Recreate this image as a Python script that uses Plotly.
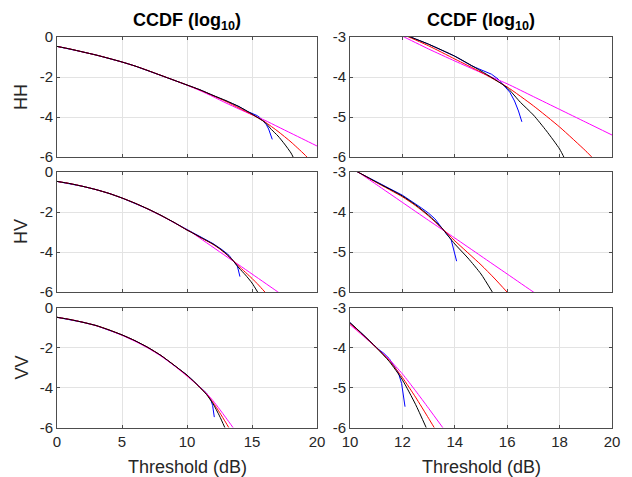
import plotly.graph_objects as go

# ---------------- data ----------------
# HH
hh_black_x = [0, 1, 2, 3, 4, 5, 6, 7, 8, 9, 10, 11, 12, 13, 14, 15, 16, 16.5, 17, 17.5, 18, 18.2]
hh_black_y = [-0.47, -0.6, -0.75, -0.9, -1.07, -1.25, -1.45, -1.68, -1.92, -2.16, -2.4, -2.64, -2.92, -3.18, -3.48, -3.85, -4.27, -4.63, -4.95, -5.35, -5.8, -6.05]
hh_red_x = [0, 1, 2, 3, 4, 5, 6, 7, 8, 9, 10, 11, 12, 13, 14, 15, 16, 17, 18, 19, 19.3]
hh_red_y = [-0.47, -0.6, -0.75, -0.9, -1.07, -1.25, -1.45, -1.68, -1.92, -2.16, -2.4, -2.65, -2.93, -3.22, -3.55, -3.88, -4.25, -4.72, -5.25, -5.85, -6.05]
hh_mag_x = [0, 1, 2, 3, 4, 5, 6, 7, 8, 9, 10, 11, 12, 13, 14, 15, 16, 17, 18, 19, 20]
hh_mag_y = [-0.47, -0.6, -0.75, -0.9, -1.07, -1.25, -1.45, -1.68, -1.92, -2.16, -2.41, -2.68, -2.98, -3.3, -3.6, -3.89, -4.17, -4.49, -4.81, -5.13, -5.45]
hh_blue_x = [0, 1, 2, 3, 4, 5, 6, 7, 8, 9, 10, 11, 12, 13, 14, 14.64, 15.0, 15.4, 15.65, 15.9, 16.1, 16.28, 16.43, 16.56]
hh_blue_y = [-0.47, -0.6, -0.75, -0.9, -1.07, -1.25, -1.45, -1.68, -1.92, -2.16, -2.4, -2.64, -2.92, -3.18, -3.48, -3.72, -3.82, -3.93, -4.05, -4.22, -4.38, -4.6, -4.85, -5.12]

# HV
hv_black_x = [0, 1, 2, 3, 4, 5, 6, 7, 8, 9, 10, 10.3, 11, 12, 12.5, 13, 13.5, 14, 14.5, 15, 15.45]
hv_black_y = [-0.47, -0.58, -0.72, -0.88, -1.07, -1.3, -1.56, -1.85, -2.17, -2.52, -2.9, -3.0, -3.25, -3.6, -3.82, -4.08, -4.4, -4.8, -5.15, -5.55, -6.02]
hv_red_x = [0, 1, 2, 3, 4, 5, 6, 7, 8, 9, 10, 10.3, 11, 12, 12.5, 13, 13.5, 14, 15, 15.5, 16.02]
hv_red_y = [-0.47, -0.58, -0.72, -0.88, -1.07, -1.3, -1.56, -1.85, -2.17, -2.52, -2.9, -3.0, -3.26, -3.62, -3.84, -4.1, -4.4, -4.72, -5.32, -5.65, -6.02]
hv_mag_x = [0, 1, 2, 3, 4, 5, 6, 7, 8, 9, 10, 10.3, 11, 12, 13, 14, 15, 16, 17, 17.05]
hv_mag_y = [-0.47, -0.58, -0.72, -0.88, -1.07, -1.3, -1.56, -1.86, -2.18, -2.53, -2.9, -3.0, -3.31, -3.76, -4.21, -4.65, -5.1, -5.55, -6.0, -6.02]
hv_blue_x = [0, 1, 2, 3, 4, 5, 6, 7, 8, 9, 10, 10.3, 11, 12, 12.73, 13.0, 13.24, 13.43, 13.6, 13.86, 13.95, 14.07]
hv_blue_y = [-0.47, -0.58, -0.72, -0.88, -1.07, -1.3, -1.56, -1.85, -2.17, -2.52, -2.9, -3.0, -3.24, -3.58, -3.9, -4.03, -4.17, -4.34, -4.48, -4.69, -4.9, -5.23]

# VV
vv_black_x = [0, 1, 2, 3, 4, 5, 6, 7, 8, 9, 10, 10.5, 11, 11.5, 12, 12.5, 12.92]
vv_black_y = [-0.49, -0.6, -0.74, -0.9, -1.12, -1.37, -1.66, -2.0, -2.4, -2.88, -3.38, -3.68, -4.0, -4.35, -4.81, -5.42, -6.02]
vv_red_x = [0, 1, 2, 3, 4, 5, 6, 7, 8, 9, 10, 10.5, 11, 11.5, 12, 12.5, 13, 13.23]
vv_red_y = [-0.49, -0.6, -0.74, -0.9, -1.12, -1.37, -1.66, -2.0, -2.4, -2.88, -3.4, -3.69, -4.0, -4.33, -4.75, -5.24, -5.77, -6.02]
vv_mag_x = [0, 1, 2, 3, 4, 5, 6, 7, 8, 9, 10, 10.5, 11, 11.5, 12, 12.5, 13, 13.56]
vv_mag_y = [-0.49, -0.6, -0.74, -0.91, -1.13, -1.39, -1.69, -2.03, -2.43, -2.9, -3.43, -3.71, -4.0, -4.3, -4.66, -5.08, -5.52, -6.02]
vv_blue_x = [0, 1, 2, 3, 4, 5, 6, 7, 8, 9, 10, 10.5, 11.08, 11.3, 11.5, 11.84, 11.97, 12.1]
vv_blue_y = [-0.49, -0.6, -0.74, -0.9, -1.12, -1.37, -1.66, -2.0, -2.4, -2.88, -3.38, -3.68, -4.04, -4.15, -4.28, -4.62, -4.9, -5.48]

row_names = ["HH", "HV", "VV"]
col_titles = ["CCDF (log<sub>10</sub>)", "CCDF (log<sub>10</sub>)"]
x_label = "Threshold (dB)"

left_xticks = [0, 5, 10, 15, 20]
right_xticks = [10, 12, 14, 16, 18, 20]
left_yticks = [-6, -4, -2, 0]
right_yticks = [-6, -5, -4, -3]

series = [
    [(hh_blue_x, hh_blue_y, "#0000ff"), (hh_mag_x, hh_mag_y, "#ff00ff"),
     (hh_red_x, hh_red_y, "#ff0000"), (hh_black_x, hh_black_y, "#000000")],
    [(hv_blue_x, hv_blue_y, "#0000ff"), (hv_mag_x, hv_mag_y, "#ff00ff"),
     (hv_red_x, hv_red_y, "#ff0000"), (hv_black_x, hv_black_y, "#000000")],
    [(vv_blue_x, vv_blue_y, "#0000ff"), (vv_mag_x, vv_mag_y, "#ff00ff"),
     (vv_red_x, vv_red_y, "#ff0000"), (vv_black_x, vv_black_y, "#000000")],
]

# ---------------- layout geometry ----------------
# The page body has an 8px margin, so the figure is drawn 8px in from the
# top-left corner of the window; positions below are window pixels.
OFF = 8
W, H = 632 - OFF, 477 - OFF
cols_px = [(57, 317), (350, 612)]
rows_px = [(37, 157), (172, 292), (307.5, 427.5)]
FONT = "Liberation Sans, Arial, Helvetica, sans-serif"
TXT = "#262626"
AXC = "#4d4d4d"
GRID = "#e3e3e3"


def px_x(v):
    return (v - OFF) / W


def px_y(v):
    return 1 - (v - OFF) / H


def labels(vals):
    return [str(v) for v in vals]  # plain hyphen-minus like the reference


fig = go.Figure()
layout = dict(
    width=W, height=H, margin=dict(l=0, r=0, t=0, b=0, autoexpand=False),
    paper_bgcolor="white", plot_bgcolor="white", showlegend=False,
    font=dict(family=FONT, size=15, color=TXT),
)

for r in range(3):
    for c in range(2):
        idx = r * 2 + c + 1
        xa = "x" if idx == 1 else f"x{idx}"
        ya = "y" if idx == 1 else f"y{idx}"
        for sx, sy, col in series[r]:
            if col == "#0000ff":
                ln = dict(color=col, width=1)
            else:
                ln = dict(color=col, width=1, shape="spline", smoothing=0.6)
            fig.add_trace(go.Scatter(x=sx, y=sy, mode="lines", line=ln,
                                     xaxis=xa, yaxis=ya, hoverinfo="skip"))
        x0, x1 = cols_px[c]
        t, b = rows_px[r]
        xkey = "xaxis" if idx == 1 else f"xaxis{idx}"
        ykey = "yaxis" if idx == 1 else f"yaxis{idx}"
        xt = left_xticks if c == 0 else right_xticks
        yt = left_yticks if c == 0 else right_yticks
        layout[xkey] = dict(
            domain=[px_x(x0), px_x(x1)], anchor=ya, automargin=False,
            range=[0, 20] if c == 0 else [10, 20],
            tickmode="array", tickvals=xt, ticktext=labels(xt),
            showticklabels=(r == 2), ticks="inside", ticklen=3, tickcolor=AXC,
            showline=True, linecolor=AXC, linewidth=1, mirror="ticks",
            showgrid=True, gridcolor=GRID, gridwidth=1, zeroline=False,
            tickfont=dict(size=15, color=TXT, family=FONT),
        )
        layout[ykey] = dict(
            domain=[px_y(b), px_y(t)], anchor=xa, automargin=False,
            range=[-6, 0] if c == 0 else [-6, -3],
            tickmode="array", tickvals=yt, ticktext=labels(yt),
            showticklabels=True, ticks="inside", ticklen=3, tickcolor=AXC,
            showline=True, linecolor=AXC, linewidth=1, mirror="ticks",
            showgrid=True, gridcolor=GRID, gridwidth=1, zeroline=False,
            tickfont=dict(size=15, color=TXT, family=FONT),
        )

ann = []
for c in range(2):
    x0, x1 = cols_px[c]
    cx = px_x((x0 + x1) / 2)
    ann.append(dict(text="<b>" + col_titles[c] + "</b>", x=cx, y=px_y(21),
                    xref="paper", yref="paper", xanchor="center", yanchor="middle",
                    showarrow=False, font=dict(size=18, color="#000000", family=FONT)))
    ann.append(dict(text=x_label, x=cx, y=px_y(467),
                    xref="paper", yref="paper", xanchor="center", yanchor="middle",
                    showarrow=False, font=dict(size=18, color=TXT, family=FONT)))
for r in range(3):
    t, b = rows_px[r]
    ann.append(dict(text=row_names[r], x=px_x(21), y=px_y((t + b) / 2),
                    xref="paper", yref="paper", xanchor="center", yanchor="middle",
                    textangle=-90, showarrow=False,
                    font=dict(size=18, color=TXT, family=FONT)))
layout["annotations"] = ann

fig.update_layout(**layout)
fig.write_html("out.html")
